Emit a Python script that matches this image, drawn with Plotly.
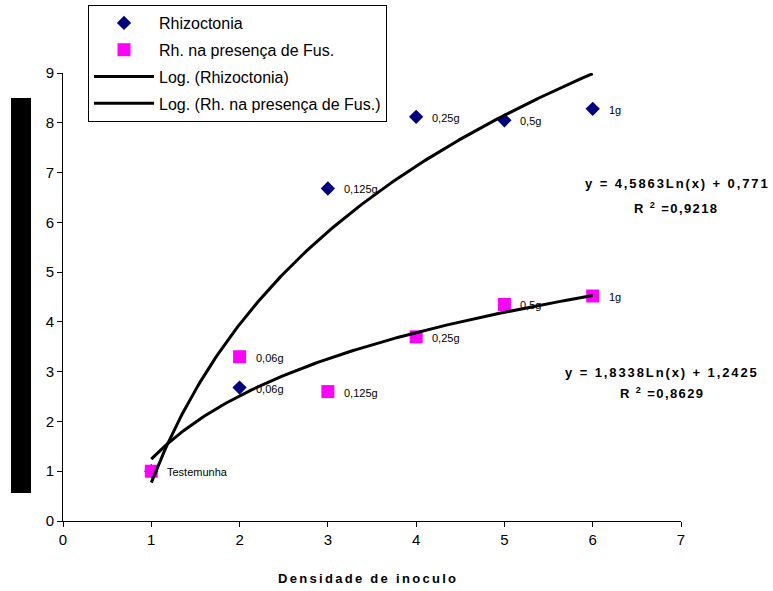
import numpy as np
import plotly.graph_objects as go

# ---- data ----
dens = [1, 2, 3, 4, 5, 6]
rhizo = [1.0, 2.68, 6.68, 8.12, 8.05, 8.28]
rh_fus = [1.0, 3.3, 2.6, 3.7, 4.35, 4.52]
labels_rhizo = ["", "0,06g", "0,125g", "0,25g", "0,5g", "1g"]
labels_fus = ["Testemunha", "0,06g", "0,125g", "0,25g", "0,5g", "1g"]
coef_rhizo = [4.5863, 0.771]     # slope, intercept (from chart)
coef_fus = [1.8338, 1.2425]
r2_rhizo = "0,9218"
r2_fus = "0,8629"
x_ticks = [0, 1, 2, 3, 4, 5, 6, 7]
y_ticks = [0, 1, 2, 3, 4, 5, 6, 7, 8, 9]

xs = np.linspace(min(dens), max(dens), 200)
trend_rhizo = coef_rhizo[0] * np.log(xs) + coef_rhizo[1]
trend_fus = coef_fus[0] * np.log(xs) + coef_fus[1]

FONT = "Liberation Sans, Arial, sans-serif"


def fmt(v):
    return str(v).replace(".", ",")


def spaced(t, sp=1.6):
    return f'<span style="letter-spacing:{sp}px">{t}</span>'


fig = go.Figure()
fig.add_trace(go.Scatter(x=dens, y=rhizo, mode="markers", name="Rhizoctonia",
                         legendgroup="a",
                         marker=dict(symbol="diamond", color="#000080", size=11)))
fig.add_trace(go.Scatter(x=dens, y=rh_fus, mode="markers", name="Rh. na presença de Fus.",
                         legendgroup="b",
                         marker=dict(symbol="square", color="#FF00FF", size=13)))
fig.add_trace(go.Scatter(x=xs, y=trend_rhizo, mode="lines", name="Log. (Rhizoctonia)",
                         legendgroup="c",
                         line=dict(color="black", width=3)))
fig.add_trace(go.Scatter(x=xs, y=trend_fus, mode="lines", name="Log. (Rh. na presença de Fus.)",
                         legendgroup="d",
                         line=dict(color="black", width=3)))

ann = []
for x, y, t in zip(dens, rhizo, labels_rhizo):
    if t:
        ann.append(dict(x=x, y=y, text=t, xref="x", yref="y", showarrow=False,
                        xanchor="left", yanchor="middle", xshift=14, yshift=-1,
                        font=dict(family=FONT, size=11, color="black")))
for x, y, t in zip(dens, rh_fus, labels_fus):
    ann.append(dict(x=x, y=y, text=t, xref="x", yref="y", showarrow=False,
                    xanchor="left", yanchor="middle", xshift=14, yshift=-1,
                    font=dict(family=FONT, size=11, color="black")))

EQ_FONT = dict(family=FONT, size=13, color="black", weight="bold")
ann += [
    dict(x=677, y=184, xref="paper", yref="paper",
         text=spaced(f"y = {fmt(coef_rhizo[0])}Ln(x) + {fmt(coef_rhizo[1])}", 1.9),
         showarrow=False, xanchor="center", yanchor="middle", font=EQ_FONT),
    dict(x=676, y=208, xref="paper", yref="paper",
         text=spaced(f"R <sup>2</sup> ={r2_rhizo}", 1.4),
         showarrow=False, xanchor="center", yanchor="middle", font=EQ_FONT),
    dict(x=662, y=372, xref="paper", yref="paper",
         text=spaced(f"y = {fmt(coef_fus[0])}Ln(x) + {fmt(coef_fus[1])}", 1.9),
         showarrow=False, xanchor="center", yanchor="middle", font=EQ_FONT),
    dict(x=662, y=393, xref="paper", yref="paper",
         text=spaced(f"R <sup>2</sup> ={r2_fus}", 1.4),
         showarrow=False, xanchor="center", yanchor="middle", font=EQ_FONT),
    dict(x=368, y=578, xref="paper", yref="paper",
         text=spaced("Densidade de inoculo", 2.3),
         showarrow=False, xanchor="center", yanchor="middle", font=EQ_FONT),
]

# convert pixel positions for annotations to paper coords
L, R, T, B = 63, 92, 73, 70
W, H = 773, 591
pw, ph = W - L - R, H - T - B
for a in ann:
    if a["xref"] == "paper":
        a["x"] = (a["x"] - L) / pw
        a["y"] = (H - B - a["y"]) / ph

fig.update_layout(
    width=W, height=H,
    margin=dict(l=L, r=R, t=T, b=B, pad=0, autoexpand=False),
    paper_bgcolor="white", plot_bgcolor="white",
    font=dict(family=FONT, size=14, color="black"),
    showlegend=True,
    legend=dict(x=(88 - L) / pw, y=(H - B - 5) / ph, xanchor="left", yanchor="top",
                bgcolor="white", bordercolor="black", borderwidth=1,
                font=dict(family=FONT, size=16, color="black"),
                traceorder="grouped", tracegroupgap=3, itemwidth=60),
    xaxis=dict(range=[0, 7], tickmode="array", tickvals=x_ticks, automargin=False,
               showgrid=False, zeroline=False, showline=True, linecolor="black",
               linewidth=1, ticks="outside", ticklen=5, tickcolor="black",
               tickfont=dict(size=15)),
    yaxis=dict(range=[0, 9], tickmode="array", tickvals=y_ticks, automargin=False,
               showgrid=False, zeroline=False, showline=True, linecolor="black",
               linewidth=1, ticks="outside", ticklen=5, tickcolor="black",
               tickfont=dict(size=15)),
    annotations=ann,
    shapes=[dict(type="rect", xref="paper", yref="paper",
                 x0=(11 - L) / pw, x1=(31 - L) / pw,
                 y0=(H - B - 493) / ph, y1=(H - B - 98) / ph,
                 fillcolor="black", line=dict(width=0))],
)

fig.write_html("out.html", config={"displayModeBar": False},
               post_script="document.body.style.margin='0';document.body.style.overflow='hidden';")
